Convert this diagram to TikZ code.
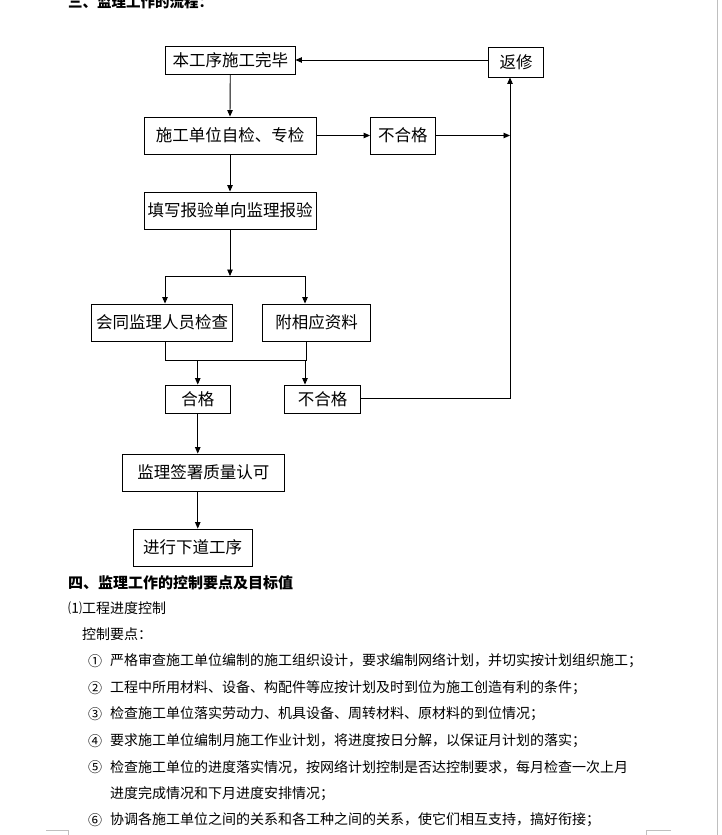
\documentclass[tikz,border=0pt]{standalone}
\usepackage{fontspec}
\setmainfont{Noto Sans CJK SC}
\usetikzlibrary{arrows.meta}
\begin{document}
\begin{tikzpicture}[x=1pt,y=-1pt,
  box/.style={draw=black,line width=0.9pt,inner sep=0pt,font=\fontsize{16.5}{18}\selectfont},
  arr/.style={line width=0.9pt,-{Triangle[length=6.5pt,width=5.5pt]}},
  ln/.style={line width=0.9pt},
  body/.style={anchor=west,inner sep=0pt,font=\fontsize{14}{16}\selectfont},
  head/.style={anchor=west,inner sep=0pt,font=\fontsize{15}{17}\selectfont\bfseries},
  pagemark/.style={draw=black!25,line width=0.8pt}
  ]
\useasboundingbox (0,0) rectangle (721,835);
\fill[white] (0,0) rectangle (721,835);
% header (cut at top)
\node[head,font=\fontsize{14.5}{16}\selectfont\bfseries] (h3) at (68,2) {三、监理工作的流程：};
% boxes
\node[box,minimum width=129.5pt,minimum height=28pt] (b1) at (230.25,60) {本工序施工完毕};
\node[box,minimum width=54.5pt,minimum height=30pt] (fx) at (516,62) {返修};
\node[box,minimum width=172pt,minimum height=37pt] (b2) at (230,135.5) {施工单位自检、专检};
\node[box,minimum width=64.5pt,minimum height=37pt] (bh1) at (402.75,135.5) {不合格};
\node[box,minimum width=172pt,minimum height=37pt] (b3) at (230,210.5) {填写报验单向监理报验};
\node[box,minimum width=141pt,minimum height=37pt] (b4) at (162,322.5) {会同监理人员检查};
\node[box,minimum width=108pt,minimum height=37pt] (b5) at (316.5,322.5) {附相应资料};
\node[box,minimum width=64.5pt,minimum height=28pt] (hg) at (197.75,399) {合格};
\node[box,minimum width=76pt,minimum height=28pt] (bh2) at (322.5,399) {不合格};
\node[box,minimum width=162.6pt,minimum height=37pt] (b6) at (203.3,472.5) {监理签署质量认可};
\node[box,minimum width=119pt,minimum height=37pt] (b7) at (192.5,547.5) {进行下道工序};
% junction coordinates
\coordinate (s1) at (230,276);
\coordinate (s1l) at (165,276);
\coordinate (s1r) at (305,276);
\coordinate (m1l) at (165.5,360);
\coordinate (m1r) at (306,360);
\coordinate (m1a) at (197.75,360);
\coordinate (m1b) at (305,360);
\coordinate (rx) at (510,398);
\coordinate (rt) at (510,135.5);
% connectors
\draw[arr] (fx.west |- b1.east) -- (b1.east);
\draw[arr] (b1.south) -- (b2.north);
\draw[arr] (b2.east) -- (bh1.west);
\draw[arr] (bh1.east) -- (rt);
\draw[arr] (b2.south) -- (b3.north);
\draw[arr] (b3.south) -- (s1);
\draw[ln] (s1l) -- (s1r);
\draw[arr] (s1l) -- (s1l |- b4.north);
\draw[arr] (s1r) -- (s1r |- b5.north);
\draw[ln] (m1l |- b4.south) -- (m1l) -- (m1r) -- (m1r |- b5.south);
\draw[arr] (m1a) -- (hg.north);
\draw[arr] (m1b) -- (m1b |- bh2.north);
\draw[arr] (bh2.east |- rx) -- (rx) -- (rx |- fx.south);
\draw[arr] (hg.south) -- (hg.south |- b6.north);
\draw[arr] (hg.south |- b6.south) -- (hg.south |- b7.north);
% text below
\node[head] (h4) at (68,583) {四、监理工作的控制要点及目标值};
\node[body] (t1) at (68,608) {⑴工程进度控制};
\node[body] (t2) at (82,634) {控制要点：};
\node[body] (n1) at (88,661) {①};
\node[body] (l1) at (110,661) {严格审查施工单位编制的施工组织设计，要求编制网络计划，并切实按计划组织施工；};
\node[body] (n2) at (88,688) {②};
\node[body] (l2) at (110,688) {工程中所用材料、设备、构配件等应按计划及时到位为施工创造有利的条件；};
\node[body] (n3) at (88,714) {③};
\node[body] (l3) at (110,714) {检查施工单位落实劳动力、机具设备、周转材料、原材料的到位情况；};
\node[body] (n4) at (88,741) {④};
\node[body] (l4) at (110,741) {要求施工单位编制月施工作业计划，将进度按日分解，以保证月计划的落实；};
\node[body] (n5) at (88,767) {⑤};
\node[body] (l5) at (110,767) {检查施工单位的进度落实情况，按网络计划控制是否达控制要求，每月检查一次上月};
\node[body] (l5b) at (110,794) {进度完成情况和下月进度安排情况；};
\node[body] (n6) at (88,820) {⑥};
\node[body] (l6) at (110,820) {协调各施工单位之间的关系和各工种之间的关系，使它们相互支持，搞好衔接；};
% page marks
\draw[pagemark] (717.5,0) -- (717.5,835);
\draw[pagemark] (46,830) -- (68,830) -- (68,835);
\draw[pagemark] (671,830) -- (646,830) -- (646,835);
\end{tikzpicture}
\end{document}
